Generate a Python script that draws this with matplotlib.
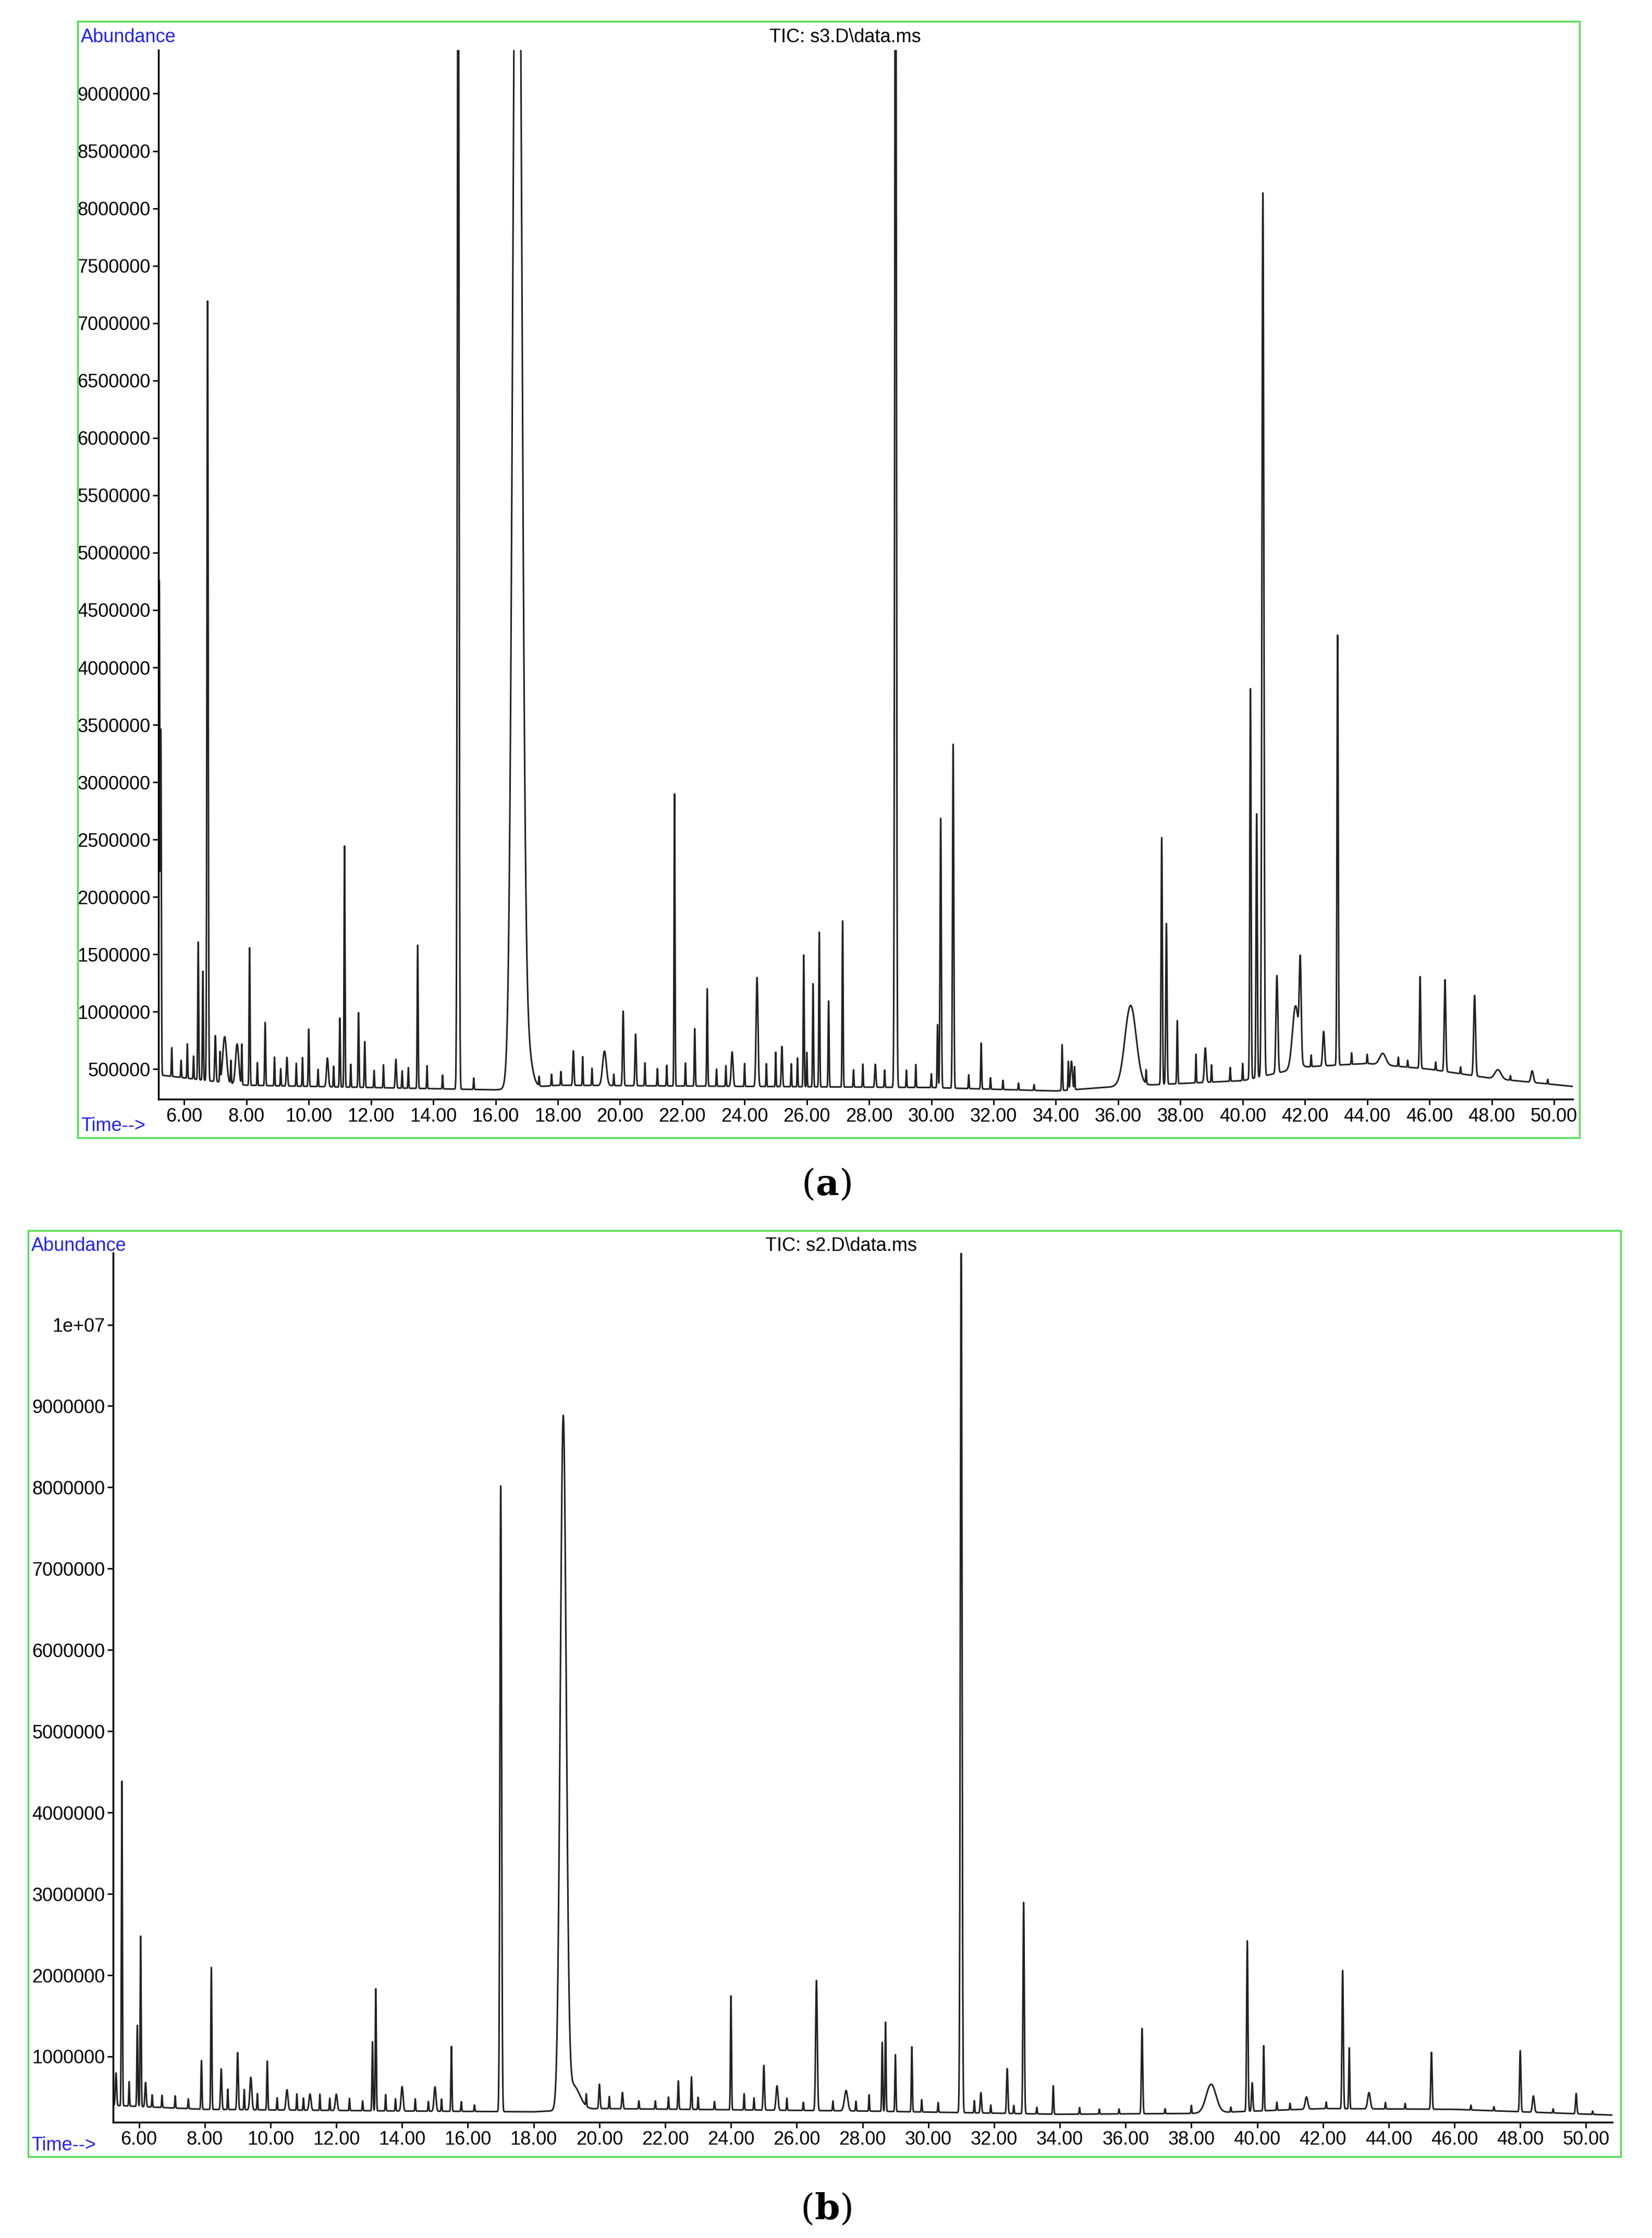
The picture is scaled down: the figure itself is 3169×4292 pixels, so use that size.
import numpy as np
import matplotlib
matplotlib.use('Agg')
import matplotlib.pyplot as plt
from matplotlib.patches import Rectangle

plt.rcParams['font.family'] = ['Liberation Sans Narrow', 'Liberation Sans', 'DejaVu Sans']

# peak tables: retention time (min), height above baseline, sigma (min)
a_times = [5.20, 5.25, 6.45, 6.60, 6.75, 7.00, 7.30, 7.70, 8.10, 8.60, 9.30, 10.00, 10.60,
           11.00, 11.15, 11.60, 11.80, 12.80, 13.50, 14.80, 16.70, 17.00, 18.50, 19.50,
           20.10, 20.50, 21.75, 22.40, 22.80, 23.60, 24.40, 25.20, 25.90, 26.20, 26.40,
           26.70, 27.15, 28.20, 28.85, 30.20, 30.30, 30.70, 31.60, 34.20, 34.50, 36.40,
           37.40, 37.55, 37.90, 38.80, 40.25, 40.45, 40.65, 41.10, 41.70, 41.85, 42.60,
           43.05, 44.50, 45.70, 46.50, 47.45, 48.20, 49.30]
a_heights = [4.3e6, 3.0e6, 1.2e6, 0.95e6, 6.8e6, 0.4e6, 0.4e6, 0.35e6, 1.2e6, 0.55e6, 0.25e6,
             0.5e6, 0.25e6, 0.6e6, 2.1e6, 0.65e6, 0.4e6, 0.25e6, 1.25e6, 1.2e7, 1.3e7,
             0.35e6, 0.3e6, 0.3e6, 0.65e6, 0.45e6, 2.55e6, 0.5e6, 0.85e6, 0.3e6, 0.95e6,
             0.35e6, 1.15e6, 0.9e6, 1.35e6, 0.75e6, 1.45e6, 0.2e6, 1.2e7, 0.55e6, 2.35e6,
             3.0e6, 0.4e6, 0.4e6, 0.25e6, 0.7e6, 2.15e6, 1.4e6, 0.55e6, 0.3e6, 3.4e6,
             2.3e6, 7.7e6, 0.85e6, 0.55e6, 0.8e6, 0.3e6, 3.75e6, 0.1e6, 0.8e6, 0.8e6,
             0.7e6, 0.08e6, 0.1e6]
a_widths = [0.015, 0.015, 0.015, 0.015, 0.02, 0.02, 0.06, 0.05, 0.015, 0.015, 0.02, 0.015, 0.03,
            0.015, 0.015, 0.015, 0.015, 0.02, 0.015, 0.025, 0.13, 0.15, 0.02, 0.06,
            0.02, 0.02, 0.015, 0.015, 0.015, 0.03, 0.03, 0.02, 0.015, 0.015, 0.015,
            0.015, 0.015, 0.02, 0.025, 0.015, 0.02, 0.02, 0.015, 0.015, 0.03, 0.18,
            0.02, 0.02, 0.015, 0.03, 0.02, 0.02, 0.03, 0.03, 0.1, 0.03, 0.03,
            0.02, 0.1, 0.02, 0.025, 0.03, 0.1, 0.04]
# small bumps of the noisy baseline
a_minor_t = [5.6, 5.9, 6.1, 6.3, 7.15, 7.5, 7.85, 8.35, 8.9, 9.1, 9.6, 9.8, 10.3, 10.8, 11.35,
             12.1, 12.4, 13.0, 13.2, 13.8, 14.3, 15.3, 17.4, 17.8, 18.1, 18.8, 19.1, 19.8, 20.8,
             21.2, 21.5, 22.1, 23.1, 23.4, 24.0, 24.7, 25.0, 25.5, 25.7, 26.0, 27.5, 27.8, 28.5,
             29.2, 29.5, 30.0, 31.2, 31.9, 32.3, 32.8, 33.3, 34.4, 34.6, 36.9, 38.5, 39.0,
             39.6, 40.0, 42.2, 43.5, 44.0, 45.0, 45.3, 46.2, 47.0, 48.6, 49.8]
a_minor_h = [2.5e5, 1.5e5, 3.0e5, 2.0e5, 2.5e5, 2.0e5, 3.5e5, 2.0e5, 2.5e5, 1.5e5, 2.0e5, 2.5e5,
             1.5e5, 1.8e5, 2.0e5, 1.5e5, 2.0e5, 1.5e5, 1.8e5, 2.0e5, 1.2e5, 1.0e5, 0.8e5, 1.0e5,
             1.2e5, 2.5e5, 1.5e5, 1.0e5, 2.0e5, 1.5e5, 1.8e5, 2.0e5, 1.5e5, 1.8e5, 2.0e5, 2.0e5,
             3.0e5, 2.0e5, 2.5e5, 3.0e5, 1.5e5, 2.0e5, 1.5e5, 1.5e5, 2.0e5, 1.2e5, 1.2e5, 1.0e5,
             0.8e5, 0.6e5, 0.5e5, 2.5e5, 2.0e5, 1.2e5, 2.5e5, 1.5e5, 1.2e5, 1.5e5, 1.0e5,
             1.0e5, 0.8e5, 0.8e5, 0.6e5, 0.7e5, 0.6e5, 0.4e5, 0.4e5]
a_base_t = [5.2, 8.0, 12.0, 16.0, 18.0, 24.0, 30.0, 34.0, 36.0, 40.0, 42.0, 44.0, 46.0, 48.0, 50.6]
a_base_v = [4.5e5, 3.6e5, 3.4e5, 3.2e5, 3.6e5, 3.5e5, 3.4e5, 3.1e5, 3.5e5, 4.0e5, 5.2e5, 5.5e5, 5.0e5, 4.2e5, 3.5e5]

b_times = [5.30, 5.48, 5.95, 6.05, 6.20, 7.90, 8.20, 8.50, 9.00, 9.40, 9.90, 10.50, 11.20,
           12.00, 13.10, 13.20, 14.00, 15.00, 15.50, 17.00, 18.90, 19.20, 20.00, 20.70,
           22.40, 22.80, 24.00, 25.00, 25.40, 26.60, 27.50, 28.60, 28.70, 29.00, 29.50,
           31.00, 31.60, 32.40, 32.90, 33.80, 36.50, 38.60, 39.70, 39.85, 40.20, 41.50,
           42.60, 42.80, 43.40, 45.30, 48.00, 48.40, 49.70]
b_heights = [0.4e6, 4.0e6, 1.0e6, 2.1e6, 0.3e6, 0.6e6, 1.75e6, 0.5e6, 0.7e6, 0.4e6, 0.6e6, 0.25e6, 0.2e6,
             0.2e6, 0.85e6, 1.5e6, 0.3e6, 0.3e6, 0.8e6, 7.7e6, 8.45e6, 0.3e6, 0.3e6, 0.2e6,
             0.35e6, 0.4e6, 1.4e6, 0.55e6, 0.3e6, 1.6e6, 0.25e6, 0.85e6, 1.1e6, 0.7e6, 0.8e6,
             1.1e7, 0.25e6, 0.55e6, 2.6e6, 0.35e6, 1.05e6, 0.35e6, 2.1e6, 0.35e6, 0.8e6, 0.15e6,
             1.7e6, 0.75e6, 0.2e6, 0.7e6, 0.75e6, 0.2e6, 0.25e6]
b_widths = [0.02, 0.015, 0.015, 0.015, 0.02, 0.015, 0.015, 0.02, 0.02, 0.03, 0.015, 0.03, 0.03,
            0.03, 0.015, 0.015, 0.03, 0.03, 0.015, 0.025, 0.09, 0.2, 0.02, 0.02,
            0.015, 0.015, 0.015, 0.02, 0.03, 0.025, 0.05, 0.015, 0.015, 0.015, 0.015,
            0.025, 0.02, 0.02, 0.02, 0.015, 0.02, 0.15, 0.02, 0.02, 0.015, 0.04,
            0.02, 0.015, 0.04, 0.02, 0.02, 0.03, 0.02]
b_minor_t = [5.7, 6.4, 6.7, 7.1, 7.5, 8.7, 9.2, 9.6, 10.2, 10.8, 11.0, 11.5, 11.8, 12.4, 12.8,
             13.5, 13.8, 14.4, 14.8, 15.2, 15.8, 16.2, 19.6, 20.3, 21.2, 21.7, 22.1, 23.0, 23.5,
             24.4, 24.7, 25.7, 26.2, 27.1, 27.8, 28.2, 29.8, 30.3, 31.4, 31.9, 32.6, 33.3, 34.6,
             35.2, 35.8, 37.2, 38.0, 39.2, 40.6, 41.0, 42.1, 43.9, 44.5, 46.5, 47.2, 49.0, 50.2]
b_minor_h = [3.0e5, 1.5e5, 1.5e5, 1.5e5, 1.2e5, 2.5e5, 2.5e5, 2.0e5, 1.5e5, 2.0e5, 1.5e5, 2.0e5,
             1.5e5, 1.5e5, 1.2e5, 2.0e5, 1.5e5, 1.5e5, 1.2e5, 1.5e5, 1.2e5, 0.8e5, 1.5e5, 1.5e5,
             1.0e5, 1.0e5, 1.5e5, 1.5e5, 1.0e5, 2.0e5, 1.5e5, 1.5e5, 1.0e5, 1.2e5, 1.2e5, 2.0e5,
             1.5e5, 1.2e5, 1.5e5, 1.0e5, 1.0e5, 0.8e5, 0.8e5, 0.6e5, 0.6e5, 0.6e5, 1.0e5, 0.6e5,
             1.0e5, 0.8e5, 0.8e5, 0.8e5, 0.7e5, 0.6e5, 0.5e5, 0.5e5, 0.4e5]
b_base_t = [5.2, 8.0, 14.0, 18.0, 20.0, 28.0, 34.0, 38.0, 42.0, 46.0, 50.8]
b_base_v = [4.0e5, 3.5e5, 3.3e5, 3.2e5, 3.6e5, 3.3e5, 2.9e5, 3.0e5, 3.6e5, 3.5e5, 2.8e5]

a_yticks = list(range(500000, 9000001, 500000))
b_yticks = list(range(1000000, 10000001, 1000000))
b_ylabels = [str(v) for v in b_yticks[:-1]] + ['1e+07']
xticks = list(range(6, 51, 2))


def trace(t, times, heights, widths, mt, mh, bt, bv):
    y = np.interp(t, bt, bv)
    for c, h, w in zip(times, heights, widths):
        y = y + h * np.exp(-0.5 * ((t - c) / w) ** 2)
    for c, h in zip(mt, mh):
        y = y + h * np.exp(-0.5 * ((t - c) / 0.012) ** 2)
    return y


fig = plt.figure(figsize=(31.69, 42.92), dpi=100)
W, H = 1166.0, 1568.0


def panel(rect, frame, xlim, ylim, peaks, minor, base, yticks, ylabels, title, tag, tag_y):
    fig.patches.append(Rectangle((frame[0] / W, 1 - frame[3] / H), (frame[2] - frame[0]) / W,
                                 (frame[3] - frame[1]) / H, transform=fig.transFigure,
                                 fill=False, edgecolor='#55dd55', linewidth=2.5))
    ax = fig.add_axes([rect[0] / W, 1 - rect[3] / H, (rect[2] - rect[0]) / W, (rect[3] - rect[1]) / H])
    t = np.arange(xlim[0], xlim[1], 0.003)
    ax.plot(t, trace(t, *peaks, *minor, *base), color='#222222', linewidth=2.2)
    ax.set_xlim(*xlim)
    ax.set_ylim(*ylim)
    for s in ['top', 'right']:
        ax.spines[s].set_visible(False)
    for s in ['left', 'bottom']:
        ax.spines[s].set_linewidth(2.5)
    ax.set_yticks(yticks)
    ax.set_yticklabels(ylabels)
    ax.set_xticks(xticks)
    ax.set_xticklabels(['%.2f' % v for v in xticks])
    ax.tick_params(labelsize=26, length=8, width=2)
    fx0 = (frame[0] + 2) / W
    fig.text(fx0, 1 - (frame[1] + 11) / H, 'Abundance', color='#2222ee', fontsize=26, va='center')
    fig.text(fx0, 1 - (frame[3] - 8) / H, 'Time-->', color='#2222ee', fontsize=26, va='center')
    fig.text((frame[0] + frame[2]) / 2 / W + 0.01, 1 - (frame[1] + 11) / H, title, fontsize=26,
             ha='center', va='center')
    fig.text(0.5, 1 - tag_y / H, '($\\mathbf{' + tag + '}$)', ha='center', va='center', fontsize=50,
             family=['DejaVu Serif'], math_fontfamily='dejavuserif')


panel((112, 35, 1110, 770), (55, 15, 1115, 797), (5.18, 50.6), (2.4e5, 9.38e6),
      (a_times, a_heights, a_widths), (a_minor_t, a_minor_h), (a_base_t, a_base_v),
      a_yticks, [str(v) for v in a_yticks], 'TIC: s3.D\\data.ms', 'a', 830)
panel((80, 878, 1138, 1487), (20, 862, 1144, 1511), (5.22, 50.8), (1.9e5, 1.088e7),
      (b_times, b_heights, b_widths), (b_minor_t, b_minor_h), (b_base_t, b_base_v),
      b_yticks, b_ylabels, 'TIC: s2.D\\data.ms', 'b', 1548)

fig.savefig('out.png', dpi=100)
